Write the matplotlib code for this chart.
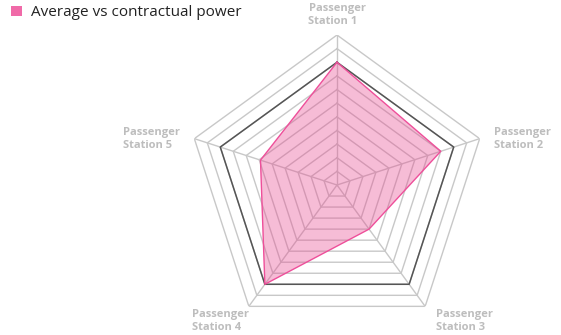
import numpy as np
import matplotlib
matplotlib.use("Agg")
import matplotlib.pyplot as plt
from matplotlib.patches import Patch

# Data
stations = ["Passenger\nStation 1", "Passenger\nStation 2", "Passenger\nStation 3",
            "Passenger\nStation 4", "Passenger\nStation 5"]
average_power = [90, 80, 40, 90, 59]
contractual_level = 90
ring_levels = list(range(10, 111, 10))
series_name = "Average vs contractual power"

plt.rcParams["font.family"] = ["Open Sans", "DejaVu Sans"]

fig = plt.figure(figsize=(5.61, 3.35), dpi=100)
ax = fig.add_axes([187 / 561, 0.0, 300 / 561, 300 / 335], projection="polar")
ax.set_theta_offset(np.pi / 2)
ax.set_theta_direction(-1)
ax.set_ylim(0, max(ring_levels))
ax.grid(False)
ax.spines["polar"].set_visible(False)
ax.set_xticks([])
ax.set_yticks([])
ax.patch.set_alpha(0)

n = len(stations)
theta = np.linspace(0, 2 * np.pi, n, endpoint=False)
theta_closed = np.append(theta, theta[0])

# pentagon rings and spokes
grid_color = "#c8c8c8"
for lvl in ring_levels:
    ax.plot(theta_closed, [lvl] * (n + 1), color=grid_color, lw=1.0, zorder=1)
for t in theta:
    ax.plot([t, t], [0, max(ring_levels)], color=grid_color, lw=1.0, zorder=1)
ax.plot(theta_closed, [contractual_level] * (n + 1), color="#555555", lw=1.1, zorder=2)

# data polygon
vals = np.append(average_power, average_power[0])
ax.fill(theta_closed, vals, color="#e8468f", alpha=0.36, lw=0, zorder=3)
ax.plot(theta_closed, vals, color="#ee4f9a", lw=1.0, zorder=4)

# axis labels
label_style = dict(color="#bdbdbd", fontsize=8, fontweight="bold", linespacing=1.25)
offsets = [((0, 6), "center", "bottom"),
           ((10, 0), "left", "center"),
           ((8, -2), "left", "top"),
           ((0, -2), "right", "top"),
           ((-10, 0), "right", "center")]
for t, name, (off, ha, va) in zip(theta, stations, offsets):
    ax.annotate(name, xy=(t, max(ring_levels)), xytext=off, textcoords="offset points",
                ha=ha, va=va, multialignment="left", annotation_clip=False, **label_style)

fig.legend(handles=[Patch(facecolor="#f06aa8", edgecolor="none")], labels=[series_name],
           loc="upper left", bbox_to_anchor=(-0.005, 1.025), frameon=False,
           handlelength=0.7, handleheight=0.7, handletextpad=0.6,
           prop={"size": 11}, labelcolor="#222222")

fig.savefig("out.png", dpi=100)
